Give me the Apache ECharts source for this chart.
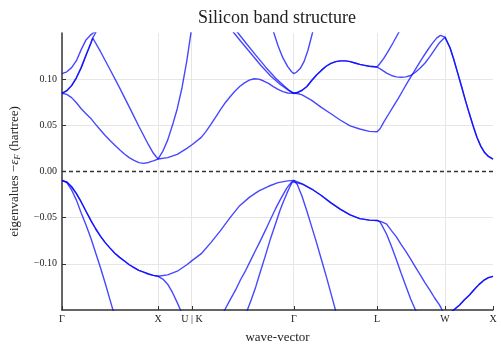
<!DOCTYPE html>
<html>
<head>
<meta charset="utf-8">
<script src="https://cdn.jsdelivr.net/npm/echarts@6.0.0/dist/echarts.min.js"></script>
<style>
  html, body { margin: 0; padding: 0; background: #fff; }
  #chart { width: 503px; height: 349px; }
</style>
</head>
<body>
<div id="chart"></div>
<script>
// high-symmetry points along the path (cumulative |k|, units of 2pi/a)
const kTicks = [0, 1.0, 1.3536, 2.4142, 3.2802, 3.9873, 4.4874]
const kLabels = ['Γ', 'X', 'U | K', 'Γ', 'L', 'W', 'X']
const yTicks = [-0.10, -0.05, 0.00, 0.05, 0.10]
const yMin = -0.15
const yMax = 0.15
const fermi = 0.0

// bands as [k, eigenvalue - eF] in hartree
const band2 = [[0, -0.0096], [0.05, -0.012], [0.1, -0.020], [0.15, -0.031], [0.2, -0.045], [0.25, -0.058], [0.3, -0.072], [0.35, -0.088], [0.4, -0.104], [0.45, -0.121], [0.5, -0.139], [0.6, -0.175], [0.7, -0.21], [0.8, -0.24], [0.9, -0.265], [1.0, -0.28],
  [1.2, -0.275], [1.3536, -0.265],
  [1.6, -0.235], [1.8, -0.19], [1.93, -0.150], [1.97, -0.139], [2.017, -0.125], [2.07, -0.107], [2.121, -0.090], [2.17, -0.073], [2.225, -0.056], [2.27, -0.042], [2.308, -0.032], [2.34, -0.024], [2.37, -0.017], [2.395, -0.012], [2.4142, -0.0096],
  [2.45, -0.014], [2.5, -0.027], [2.55, -0.043], [2.6, -0.060], [2.65, -0.077], [2.7, -0.095], [2.75, -0.113], [2.8, -0.132], [2.85, -0.151], [2.95, -0.185], [3.05, -0.215], [3.15, -0.24], [3.2802, -0.25],
  [3.6, -0.26], [3.9873, -0.27], [4.4874, -0.28]]

const band3 = [[0, -0.0096], [0.05, -0.0115], [0.1, -0.0165], [0.15, -0.024], [0.2, -0.033], [0.25, -0.043], [0.3, -0.053], [0.35, -0.062], [0.4, -0.070], [0.45, -0.077], [0.5, -0.083], [0.55, -0.0885], [0.6, -0.093], [0.65, -0.097], [0.7, -0.101], [0.75, -0.104], [0.8, -0.107], [0.85, -0.109], [0.9, -0.111], [0.95, -0.1125], [1.0, -0.1135],
  [1.05, -0.1165], [1.1, -0.122], [1.15, -0.131], [1.2, -0.142], [1.25, -0.154], [1.3, -0.167], [1.3536, -0.18],
  [1.5, -0.172], [1.6, -0.163], [1.694, -0.150], [1.75, -0.139], [1.809, -0.128], [1.86, -0.117], [1.913, -0.107], [1.965, -0.096], [2.017, -0.085], [2.07, -0.074], [2.121, -0.063], [2.17, -0.052], [2.225, -0.040], [2.27, -0.031], [2.308, -0.024], [2.34, -0.018], [2.37, -0.014], [2.395, -0.011], [2.4142, -0.0096],
  [2.5, -0.0135], [2.6, -0.019], [2.7, -0.026], [2.8, -0.034], [2.9, -0.041], [3.0, -0.047], [3.1, -0.051], [3.2, -0.0527], [3.2802, -0.053],
  [3.31, -0.0545], [3.33, -0.058], [3.38, -0.068], [3.43, -0.081], [3.48, -0.095], [3.53, -0.110], [3.58, -0.124], [3.63, -0.138], [3.68, -0.150], [3.75, -0.158], [3.9873, -0.156],
  [4.04, -0.153], [4.09, -0.149], [4.14, -0.1445], [4.19, -0.139], [4.24, -0.134], [4.29, -0.128], [4.34, -0.1225], [4.39, -0.118], [4.44, -0.115], [4.4874, -0.1135]]

const band4 = [[0, -0.0096], [0.05, -0.0115], [0.1, -0.0165], [0.15, -0.024], [0.2, -0.033], [0.25, -0.043], [0.3, -0.053], [0.35, -0.062], [0.4, -0.070], [0.45, -0.077], [0.5, -0.083], [0.55, -0.0885], [0.6, -0.093], [0.65, -0.097], [0.7, -0.101], [0.75, -0.104], [0.8, -0.107], [0.85, -0.109], [0.9, -0.111], [0.95, -0.1125], [1.0, -0.1135],
  [1.1, -0.112], [1.2, -0.108], [1.3, -0.101], [1.3536, -0.0965],
  [1.45, -0.089], [1.55, -0.077], [1.65, -0.064], [1.75, -0.050], [1.85, -0.037], [1.95, -0.028], [2.05, -0.021], [2.15, -0.016], [2.25, -0.012], [2.35, -0.0101], [2.4142, -0.0096],
  [2.5, -0.0135], [2.6, -0.019], [2.7, -0.026], [2.8, -0.034], [2.9, -0.041], [3.0, -0.047], [3.1, -0.051], [3.2, -0.0527], [3.2802, -0.053],
  [3.33, -0.0545], [3.38, -0.057], [3.43, -0.064], [3.48, -0.0705], [3.53, -0.079], [3.58, -0.0865], [3.63, -0.095], [3.68, -0.1035], [3.73, -0.112], [3.78, -0.1205], [3.83, -0.1285], [3.88, -0.137], [3.93, -0.1445], [3.9873, -0.156],
  [4.04, -0.153], [4.09, -0.149], [4.14, -0.1445], [4.19, -0.139], [4.24, -0.134], [4.29, -0.128], [4.34, -0.1225], [4.39, -0.118], [4.44, -0.115], [4.4874, -0.1135]]

const band5 = [[0, 0.0847], [0.05, 0.0835], [0.1, 0.080], [0.15, 0.0745], [0.2, 0.068], [0.25, 0.0625], [0.3, 0.0575], [0.35, 0.051], [0.4, 0.045], [0.45, 0.039], [0.5, 0.0335], [0.55, 0.0285], [0.6, 0.0235], [0.65, 0.019], [0.7, 0.015], [0.75, 0.012], [0.8, 0.0096], [0.85, 0.0088], [0.9, 0.0098], [0.95, 0.0115], [1.0, 0.0135],
  [1.1, 0.015], [1.2, 0.0185], [1.3, 0.025], [1.3536, 0.029],
  [1.45, 0.037], [1.5, 0.0435], [1.55, 0.051], [1.6, 0.059], [1.65, 0.067], [1.7, 0.0745], [1.75, 0.081], [1.8, 0.087], [1.85, 0.092], [1.9, 0.096], [1.95, 0.099], [2.0, 0.1005], [2.05, 0.100], [2.1, 0.098], [2.15, 0.0955], [2.2, 0.092], [2.25, 0.089], [2.3, 0.0865], [2.35, 0.085], [2.4142, 0.0847],
  [2.45, 0.0845], [2.5, 0.083], [2.6, 0.077], [2.7, 0.0695], [2.8, 0.0625], [2.9, 0.0555], [3.0, 0.0495], [3.1, 0.046], [3.2, 0.0435], [3.2802, 0.043],
  [3.31, 0.046], [3.35, 0.0535], [3.4, 0.062], [3.45, 0.0705], [3.5, 0.079], [3.55, 0.088], [3.6, 0.097], [3.65, 0.1055], [3.7, 0.114], [3.75, 0.1225], [3.8, 0.1305], [3.85, 0.138], [3.9, 0.1445], [3.94, 0.1475], [3.9873, 0.1455],
  [4.0, 0.1435], [4.04, 0.134], [4.08, 0.121], [4.12, 0.1065], [4.16, 0.092], [4.2, 0.077], [4.24, 0.063], [4.28, 0.0495], [4.32, 0.037], [4.36, 0.0275], [4.4, 0.0205], [4.44, 0.0163], [4.4874, 0.0135]]

const band6 = [[0, 0.0847], [0.05, 0.0875], [0.1, 0.093], [0.15, 0.1015], [0.2, 0.1125], [0.25, 0.126], [0.3, 0.139], [0.32, 0.1446], [0.4, 0.130], [0.5, 0.1105], [0.6, 0.0905], [0.7, 0.070], [0.8, 0.049], [0.9, 0.029], [0.95, 0.020], [1.0, 0.0135],
  [1.05, 0.022], [1.1, 0.034], [1.15, 0.050], [1.2, 0.068], [1.25, 0.091], [1.3, 0.12], [1.3536, 0.158],
  [1.5, 0.17], [1.65, 0.168], [1.75, 0.156], [1.791, 0.150], [1.861, 0.141], [1.965, 0.128], [2.069, 0.115], [2.172, 0.1035], [2.276, 0.094], [2.35, 0.0885], [2.4142, 0.0847],
  [2.45, 0.0855], [2.5, 0.088], [2.55, 0.092], [2.6, 0.0985], [2.65, 0.1045], [2.7, 0.1095], [2.75, 0.114], [2.8, 0.117], [2.85, 0.119], [2.9, 0.1198], [2.95, 0.1198], [3.0, 0.119], [3.05, 0.1175], [3.1, 0.116], [3.15, 0.115], [3.2, 0.114], [3.2802, 0.1132],
  [3.33, 0.110], [3.38, 0.1065], [3.43, 0.104], [3.48, 0.1025], [3.53, 0.102], [3.58, 0.1025], [3.63, 0.104], [3.68, 0.1075], [3.73, 0.112], [3.78, 0.1175], [3.83, 0.1245], [3.88, 0.132], [3.93, 0.1395], [3.9873, 0.1455],
  [4.0, 0.1435], [4.04, 0.134], [4.08, 0.121], [4.12, 0.1065], [4.16, 0.092], [4.2, 0.077], [4.24, 0.063], [4.28, 0.0495], [4.32, 0.037], [4.36, 0.0275], [4.4, 0.0205], [4.44, 0.0163], [4.4874, 0.0135]]

const band7 = [[0, 0.0847], [0.05, 0.0875], [0.1, 0.093], [0.15, 0.1015], [0.2, 0.1125], [0.25, 0.126], [0.3, 0.139], [0.32, 0.1446], [0.4, 0.16], [0.5, 0.175], [0.7, 0.19], [1.0, 0.2],
  [1.3536, 0.21],
  [1.6, 0.19], [1.75, 0.162], [1.833, 0.150], [1.913, 0.1395], [2.017, 0.126], [2.121, 0.113], [2.225, 0.101], [2.308, 0.093], [2.37, 0.0875], [2.4142, 0.0847],
  [2.45, 0.0855], [2.5, 0.088], [2.55, 0.092], [2.6, 0.0985], [2.65, 0.1045], [2.7, 0.1095], [2.75, 0.114], [2.8, 0.117], [2.85, 0.119], [2.9, 0.1198], [2.95, 0.1198], [3.0, 0.119], [3.05, 0.1175], [3.1, 0.116], [3.15, 0.115], [3.2, 0.114], [3.2802, 0.1132],
  [3.31, 0.117], [3.35, 0.1225], [3.4, 0.131], [3.45, 0.14], [3.5, 0.1495], [3.55, 0.159], [3.7, 0.18], [3.9873, 0.2],
  [4.2, 0.21], [4.4874, 0.22]]

const band8 = [[0, 0.106], [0.05, 0.108], [0.1, 0.1125], [0.15, 0.120], [0.2, 0.132], [0.25, 0.1425], [0.3, 0.148], [0.33, 0.1505], [0.4, 0.158], [0.6, 0.18], [1.0, 0.22],
  [1.3536, 0.23],
  [2.0, 0.22], [2.15, 0.168], [2.2, 0.152], [2.25, 0.136], [2.3, 0.123], [2.35, 0.1135], [2.39, 0.108], [2.4142, 0.106],
  [2.44, 0.1075], [2.48, 0.1115], [2.52, 0.119], [2.56, 0.131], [2.6, 0.147], [2.65, 0.167], [2.8, 0.2], [3.2802, 0.23],
  [3.9873, 0.22], [4.4874, 0.22]]

const bands = [band2, band3, band4, band5, band6, band7, band8]

const serif = "'Liberation Serif', 'DejaVu Serif', serif"
const textColor = '#222'

function kLabel(v) {
  for (let i = 0; i < kTicks.length; i++) {
    if (Math.abs(kTicks[i] - v) < 1e-6) return kLabels[i]
  }
  return ''
}

function yLabel(v) {
  if (Math.abs(v) < 1e-9) return '0.00'
  return (v < 0 ? '\u2212' : '') + Math.abs(v).toFixed(2)
}

const chart = echarts.init(document.getElementById('chart'))

const series = []
// grid lines, kept under the bands
series.push({
  type: 'line',
  data: [],
  silent: true,
  z: 0,
  markLine: {
    silent: true,
    z: 0,
    symbol: ['none', 'none'],
    label: {show: false},
    animation: false,
    lineStyle: {color: '#e6e6e6', width: 1, type: 'solid'},
    data: kTicks.slice(1).map(k => ({xAxis: k}))
      .concat(yTicks.filter(v => v !== fermi).map(v => ({yAxis: v})))
  }
})
// fermi level
series.push({
  type: 'line',
  data: [],
  silent: true,
  z: 1,
  markLine: {
    silent: true,
    z: 1,
    symbol: ['none', 'none'],
    label: {show: false},
    animation: false,
    lineStyle: {color: '#333', width: 1.3, type: [4, 3]},
    data: [{yAxis: fermi}]
  }
})
for (let i = 0; i < bands.length; i++) {
  series.push({
    type: 'line',
    data: bands[i],
    showSymbol: false,
    symbol: 'none',
    silent: true,
    clip: true,
    z: 6,
    lineStyle: {color: '#0000ff', width: 1.4, opacity: 0.72}
  })
}

const option = {
  animation: false,
  title: {
    text: 'Silicon band structure',
    left: 277,
    top: 9,
    padding: 0,
    textAlign: 'center',
    textStyle: {fontFamily: serif, fontSize: 18, fontWeight: 'normal', color: textColor}
  },
  grid: {left: 61, right: 10, top: 33, bottom: 36, containLabel: false},
  xAxis: {
    type: 'value',
    min: 0,
    max: kTicks[kTicks.length - 1],
    name: 'wave-vector',
    nameLocation: 'middle',
    nameGap: 21,
    nameTextStyle: {fontFamily: serif, fontSize: 13, color: textColor},
    axisLine: {show: true, onZero: false, lineStyle: {color: '#333', width: 1.5}},
    axisTick: {show: true, inside: true, length: 4, customValues: kTicks, lineStyle: {color: '#333', width: 1}},
    axisLabel: {
      customValues: kTicks,
      showMinLabel: true,
      showMaxLabel: true,
      formatter: kLabel,
      fontFamily: serif,
      fontSize: 10,
      color: textColor,
      margin: 4
    },
    splitLine: {show: false}
  },
  yAxis: {
    type: 'value',
    min: yMin,
    max: yMax,
    name: 'eigenvalues \u2212{it|ε}{sub|F} (hartree)',
    nameLocation: 'middle',
    nameRotate: 90,
    nameGap: 40,
    nameTextStyle: {
      fontFamily: serif, fontSize: 13, color: textColor,
      rich: {
        it: {fontFamily: serif, fontSize: 13, fontStyle: 'italic', color: textColor},
        sub: {fontFamily: serif, fontSize: 9, fontStyle: 'italic', color: textColor, padding: [6, 0, 0, 0]}
      }
    },
    axisLine: {show: true, onZero: false, lineStyle: {color: '#333', width: 1.5}},
    axisTick: {show: true, inside: true, length: 4, customValues: yTicks, lineStyle: {color: '#333', width: 1}},
    axisLabel: {
      customValues: yTicks,
      formatter: yLabel,
      fontFamily: serif,
      fontSize: 10,
      color: textColor,
      margin: 5
    },
    splitLine: {show: false}
  },
  series: series
}

chart.setOption(option)
</script>
</body>
</html>
